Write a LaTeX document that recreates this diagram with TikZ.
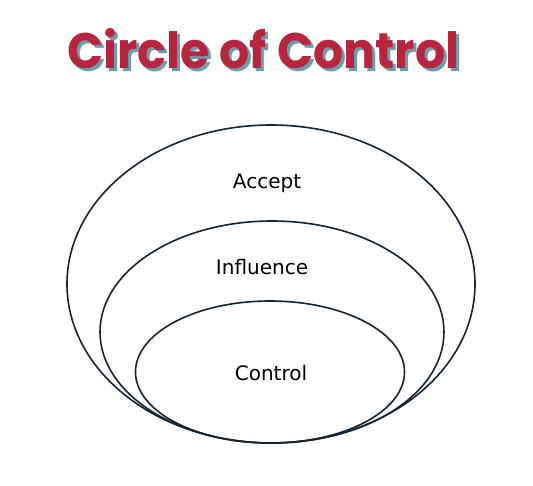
\documentclass[tikz,border=0pt]{standalone}
\usepackage{fontspec}
\setmainfont{DejaVu Sans}
\newfontfamily\titlefont{Poppins}[UprightFont=* Bold]
\definecolor{titlered}{HTML}{B8253F}
\definecolor{titleshadow}{HTML}{6E9CAD}
\definecolor{ringline}{HTML}{152430}
\begin{document}
\begin{tikzpicture}[x=1pt,y=1pt,
  ring/.style={draw=ringline,line width=1.6pt},
  lbl/.style={font=\fontsize{20}{22}\selectfont,text=black,inner sep=0pt},
  ttl/.style={anchor=base west,inner sep=0pt}]
\useasboundingbox (0,0) rectangle (533,485);
\fill[white] (0,0) rectangle (533,485);
% title with shadow
\node[ttl,text=titleshadow] (shadow) at (70,413) {\resizebox{392pt}{40pt}{\titlefont Circle of Control}};
\node[ttl,text=titlered] (title) at (67,416) {\resizebox{392pt}{40pt}{\titlefont Circle of Control}};
% rings
\draw[ring] (271,201) ellipse [x radius=204, y radius=159];
\draw[ring] (272,153) ellipse [x radius=172, y radius=111];
\draw[ring] (270,113) ellipse [x radius=134.5, y radius=71];
% labels
\node[lbl] (accept) at (267,302) {Accept};
\node[lbl] (influence) at (262,218) {Influence};
\node[lbl] (control) at (271,112) {Control};
\end{tikzpicture}
\end{document}
